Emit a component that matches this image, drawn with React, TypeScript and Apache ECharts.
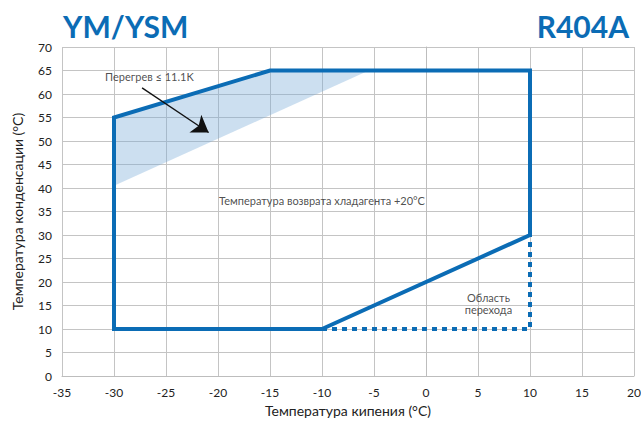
import React, { useEffect, useRef } from "react";
import * as echarts from "echarts";

const xTicks = [-35, 20];
const yTicks = [0, 70];
const envelopeSolid: number[][] = [
  [-10, 10], [-30, 10], [-30, 55], [-15, 65], [10, 65], [10, 30], [-10, 10],
];
const envelopeDashed: number[][] = [
  [-10, 10], [10, 10], [10, 30],
];
const superheatArea: number[][] = [
  [-30, 55], [-15, 65], [-5.5, 65], [-30, 40.5],
];
const arrowPoints: number[][] = [[-27.3, 61.3], [-20.9, 51.8]];

const BLUE = "#0b6cb5";
const FONT = "Lato, 'Open Sans', sans-serif";

export default function App() {
  const ref = useRef<HTMLDivElement>(null);
  useEffect(() => {
    document.body.style.margin = "0";
    const chart = echarts.init(ref.current!, undefined, { renderer: "svg" });
    chart.setOption({
      animation: false,
      textStyle: { fontFamily: FONT },
      title: [
        {
          text: "YM/YSM", left: 58, top: 6,
          textStyle: { color: BLUE, fontSize: 30, fontWeight: "bold", fontFamily: FONT },
        },
        {
          text: "R404A", right: 7, top: 6,
          textStyle: { color: BLUE, fontSize: 30, fontWeight: "bold", fontFamily: FONT },
        },
      ],
      grid: { left: 62, right: 7, top: 47, bottom: 45, outerBoundsMode: "none", containLabel: false } as any,
      xAxis: {
        type: "value", min: xTicks[0], max: xTicks[1], interval: 5,
        name: "Температура кипения (°C)", nameLocation: "middle", nameGap: 27,
        nameTextStyle: { fontSize: 14, color: "#222", fontFamily: FONT },
        axisLine: { show: true, lineStyle: { color: "#bdbdbd" } },
        axisTick: { show: false },
        axisLabel: { color: "#222", fontSize: 12, margin: 10 },
        splitLine: { show: true, lineStyle: { color: "#c4c4c4", width: 1 } },
      },
      yAxis: {
        type: "value", min: yTicks[0], max: yTicks[1], interval: 5,
        name: "Температура конденсации (°C)", nameLocation: "middle", nameGap: 38,
        nameTextStyle: { fontSize: 14, color: "#222", fontFamily: FONT },
        axisLine: { show: true, lineStyle: { color: "#bdbdbd" } },
        axisTick: { show: false },
        axisLabel: { color: "#222", fontSize: 12, margin: 10 },
        splitLine: { show: true, lineStyle: { color: "#c4c4c4", width: 1 } },
      },
      series: [
        {
          type: "custom",
          renderItem: (params: any, api: any) => {
            const pts = superheatArea.map((p) => api.coord(p));
            return {
              type: "polygon",
              shape: { points: pts },
              style: { fill: "rgba(120,170,215,0.38)" },
            };
          },
          data: [0],
          z: 1,
        },
        {
          type: "line", data: envelopeSolid, symbol: "none",
          lineStyle: { color: BLUE, width: 4, join: "miter" } as any, z: 3,
        },
        {
          type: "line", data: envelopeDashed, symbol: "none",
          lineStyle: { color: BLUE, width: 4, type: [5, 5] }, z: 3,
        },
        {
          type: "lines", coordinateSystem: "cartesian2d",
          symbol: ["none", "arrow"], symbolSize: 16,
          lineStyle: { color: "#111", width: 1.3, opacity: 1 },
          data: [{ coords: arrowPoints }], z: 4,
        },
        {
          type: "scatter", symbolSize: 0, z: 5,
          label: {
            show: true, position: "inside", color: "#222", fontSize: 11, lineHeight: 12,
            fontFamily: FONT, align: "center", formatter: (p: any) => p.data.name,
          },
          data: [
            { name: "Перегрев ≤ 11.1K", value: [-26.6, 63.8] },
            { name: "Температура возврата хладагента +20°C", value: [-10, 37.3] },
            { name: "Область\nперехода", value: [6, 15.5] },
          ],
        },
      ],
    });
    return () => chart.dispose();
  }, []);
  return <div ref={ref} style={{ position: "absolute", left: 0, top: 0, width: 641, height: 421 }} />;
}
